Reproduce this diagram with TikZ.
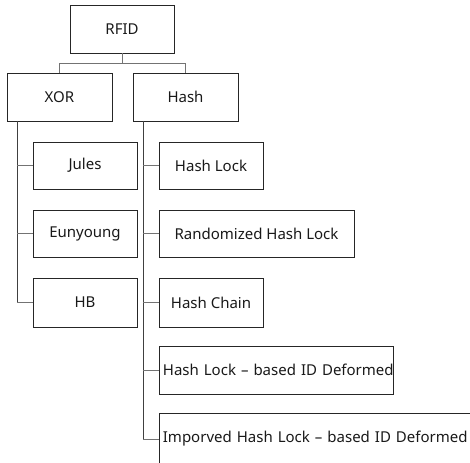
\documentclass[tikz,border=0pt]{standalone}
\usepackage{fontspec}
\setmainfont{Noto Sans}
\begin{document}
\begin{tikzpicture}[x=1pt,y=1pt,
  box/.style={draw=black!85, line width=0.8pt, minimum height=48pt, inner sep=0pt, font=\fontsize{15}{18}\selectfont, text=black!90},
  wbox/.style={box, align=left, anchor=west, inner xsep=3.5pt},
  conn/.style={draw=black!55, line width=0.8pt},
  vconn/.style={draw=black!75, line width=0.8pt}]
\useasboundingbox (0,0) rectangle (470,-462);
\clip (0,0) rectangle (470,-462);
\node[box, minimum width=104pt] (rfid) at (122,-29) {RFID};
\node[box, minimum width=105pt] (xor) at (59.5,-97) {XOR};
\node[box, minimum width=105pt] (hash) at (185.5,-97) {Hash};
\node[box, minimum width=104pt, minimum height=47pt] (jules) at (85,-165.5) {Jules};
\node[box, minimum width=104pt, minimum height=47pt] (eun) at (85,-233.5) {Eunyoung};
\node[box, minimum width=104pt, minimum height=49pt] (hb) at (85,-302.5) {HB};
\node[box, minimum width=104pt, minimum height=47pt] (hl) at (211,-165.5) {Hash Lock};
\node[box, minimum width=195pt, minimum height=47pt] (rhl) at (256.5,-233.5) {Randomized Hash Lock};
\node[box, minimum width=104pt, minimum height=49pt] (hc) at (211,-302.5) {Hash Chain};
\node[wbox, text width=227pt] (hld) at (159,-370) {\mbox{Hash Lock – based ID Deformed}};
\node[wbox, text width=353pt, minimum height=52pt] (ihld) at (159,-439) {\mbox{Imporved Hash Lock – based ID Deformed}};
\coordinate (split) at (122,-63);
\draw[conn] (rfid.south) -- (split) -| (xor.north);
\draw[conn] (split) -| (hash.north);
\coordinate (xv) at (17,-121);
\coordinate (hv) at (143,-121);
\draw[vconn] (xv) -- (xv |- hb.west);
\draw[conn] (xv |- jules.west) -- (jules.west);
\draw[conn] (xv |- eun.west) -- (eun.west);
\draw[conn] (xv |- hb.west) -- (hb.west);
\draw[vconn] (hv) -- (hv |- ihld.west);
\draw[conn] (hv |- hl.west) -- (hl.west);
\draw[conn] (hv |- rhl.west) -- (rhl.west);
\draw[conn] (hv |- hc.west) -- (hc.west);
\draw[conn] (hv |- hld.west) -- (hld.west);
\draw[conn] (hv |- ihld.west) -- (ihld.west);
\end{tikzpicture}
\end{document}
